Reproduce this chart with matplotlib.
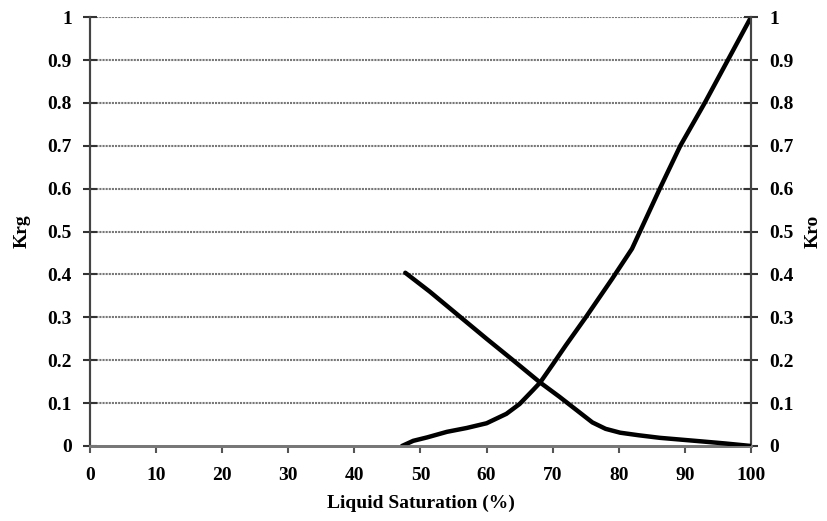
import matplotlib
matplotlib.use("Agg")
import matplotlib.pyplot as plt

# Krg curve (left axis) and Kro curve (right axis)
krg_sat = [47.2, 48.9, 51, 54, 57, 60, 63, 65, 67, 68.1, 70, 72, 75, 79, 82, 86.2, 89.3, 93, 96.5, 100]
krg_val = [0.0, 0.012, 0.02, 0.033, 0.042, 0.053, 0.075, 0.098, 0.13, 0.148, 0.19, 0.235, 0.3, 0.39, 0.46, 0.6, 0.7, 0.8, 0.9, 1.0]

kro_sat = [47.7, 51.4, 55.7, 60, 64, 68.1, 71, 73.5, 76, 78, 80.2, 83, 86.2, 92.3, 96, 100]
kro_val = [0.404, 0.36, 0.305, 0.25, 0.2, 0.148, 0.115, 0.085, 0.055, 0.04, 0.031, 0.025, 0.019, 0.011, 0.006, 0.0]

x_ticks = list(range(0, 101, 10))
y_ticks = [i / 10 for i in range(11)]
y_labels = ["0", "0.1", "0.2", "0.3", "0.4", "0.5", "0.6", "0.7", "0.8", "0.9", "1"]

plt.rcParams["font.family"] = ["Liberation Serif", "DejaVu Serif"]
plt.rcParams["font.weight"] = "bold"

fig = plt.figure(figsize=(8.28, 5.21), dpi=100)
ax = fig.add_axes([0.1087, 0.144, 0.7983, 0.823])
ax2 = ax.twinx()

ax.plot(krg_sat, krg_val, color="black", lw=3.2, solid_capstyle="round", solid_joinstyle="round", zorder=5)
ax2.plot(kro_sat, kro_val, color="black", lw=3.2, solid_capstyle="round", solid_joinstyle="round", zorder=5)

for a in (ax, ax2):
    a.set_xlim(0, 100)
    a.set_ylim(0, 1)
    a.set_yticks(y_ticks)
    a.set_yticklabels(y_labels, fontsize=14, fontweight="bold")
    a.spines["top"].set_visible(False)
    a.spines["left"].set_color("#444444")
    a.spines["right"].set_color("#444444")
    a.spines["bottom"].set_color("#777777")
    a.spines["left"].set_linewidth(1.5)
    a.spines["right"].set_linewidth(1.5)
    a.spines["bottom"].set_linewidth(2)

ax.set_xticks(x_ticks)
ax.set_xticklabels([str(t) for t in x_ticks], fontsize=14, fontweight="bold")
ax.tick_params(axis="x", direction="out", length=5, width=1.5, color="#555555", pad=10)
ax.tick_params(axis="y", direction="inout", length=10, width=1.5, color="#333333", pad=8)
ax2.tick_params(axis="y", direction="inout", length=10, width=1.5, color="#333333", pad=8)

for v in y_ticks[1:]:
    ax.axhline(v, color="#777777", lw=1.5, linestyle=(0, (1, 0.5)), zorder=1)

ax.set_ylabel("Krg", fontsize=14, fontweight="bold", labelpad=12)
ax2.set_ylabel("Kro", fontsize=14, fontweight="bold", labelpad=8)
ax.set_xlabel("Liquid Saturation (%)", fontsize=14, fontweight="bold", labelpad=8)

fig.savefig("out.png", dpi=100)
